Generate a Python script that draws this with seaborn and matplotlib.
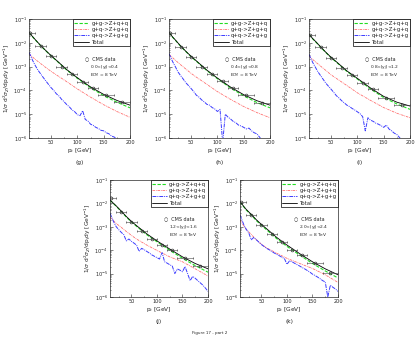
import matplotlib
matplotlib.use("Agg")
import matplotlib.pyplot as plt
import seaborn as sns
from matplotlib.ticker import MultipleLocator

# -------------------------
# data
# -------------------------
pt_smooth = [8, 15, 20, 30, 40, 50, 60, 80, 100, 125, 150, 175, 200]
pt_blue = [8, 10, 15, 20, 25, 30, 35, 40, 45, 50, 55, 60, 65, 70, 75, 80, 85, 90, 95, 100,
           105, 110, 115, 120, 125, 130, 135, 140, 145, 150, 155, 160, 165, 170, 175, 180,
           185, 190, 195, 200]
pt_data = [10, 30, 50, 70, 90, 110, 130, 155, 185]
pt_halfbin = [10, 10, 10, 10, 10, 10, 10, 15, 15]

captions = ["(g)", "(h)", "(i)", "(j)", "(k)"]
rap_labels = ["0.0<|y$_j$|<0.4", "0.4<|y$_j$|<0.8", "0.8<|y$_j$|<1.2",
              "1.2<|y$_j$|<1.6", "2.0<|y$_j$|<2.4"]

# Total
total_g = [2.75e-2, 1.8e-2, 1.35e-2, 7.8e-3, 4.7e-3, 2.9e-3, 1.85e-3, 7.4e-4, 3.4e-4, 1.4e-4, 6.8e-5, 3.8e-5, 2.4e-5]
total_h = [2.75e-2, 1.74e-2, 1.32e-2, 7.4e-3, 4.4e-3, 2.7e-3, 1.74e-3, 7.1e-4, 3.3e-4, 1.38e-4, 6.6e-5, 3.7e-5, 2.4e-5]
total_i = [2.35e-2, 1.5e-2, 1.17e-2, 6.8e-3, 4.0e-3, 2.45e-3, 1.6e-3, 6.6e-4, 3.2e-4, 1.26e-4, 5.6e-5, 3.2e-5, 2.2e-5]
total_j = [1.4e-2, 1.0e-2, 7.9e-3, 4.7e-3, 2.75e-3, 1.7e-3, 1.12e-3, 5.0e-4, 2.5e-4, 1.12e-4, 5.2e-5, 2.7e-5, 1.6e-5]
total_k = [1.2e-2, 7.6e-3, 5.6e-3, 3.4e-3, 2.0e-3, 1.26e-3, 8.3e-4, 3.5e-4, 1.66e-4, 7.1e-5, 3.2e-5, 1.6e-5, 8.9e-6]

# g+g->Z+q+q (green)
green_g = [2.7e-2, 1.77e-2, 1.32e-2, 7.6e-3, 4.6e-3, 2.8e-3, 1.8e-3, 7.1e-4, 3.2e-4, 1.3e-4, 6.0e-5, 3.2e-5, 1.85e-5]
green_h = [2.7e-2, 1.7e-2, 1.29e-2, 7.2e-3, 4.3e-3, 2.6e-3, 1.68e-3, 6.8e-4, 3.1e-4, 1.27e-4, 5.9e-5, 3.1e-5, 1.85e-5]
green_i = [2.3e-2, 1.47e-2, 1.14e-2, 6.6e-3, 3.9e-3, 2.36e-3, 1.54e-3, 6.3e-4, 3.0e-4, 1.15e-4, 5.0e-5, 2.7e-5, 1.6e-5]
green_j = [1.37e-2, 9.7e-3, 7.6e-3, 4.5e-3, 2.6e-3, 1.6e-3, 1.05e-3, 4.6e-4, 2.3e-4, 1.0e-4, 4.5e-5, 2.2e-5, 1.15e-5]
green_k = [1.17e-2, 7.3e-3, 5.3e-3, 3.2e-3, 1.85e-3, 1.15e-3, 7.5e-4, 3.1e-4, 1.45e-4, 6.2e-5, 2.7e-5, 1.3e-5, 6.5e-6]

# g+q->Z+g+q (red)
red_g = [3.5e-3, 2.5e-3, 2.0e-3, 1.35e-3, 9.1e-4, 6.3e-4, 4.5e-4, 2.3e-4, 1.15e-4, 5.2e-5, 2.5e-5, 1.3e-5, 7.4e-6]
red_h = [3.3e-3, 2.35e-3, 1.86e-3, 1.2e-3, 7.9e-4, 5.2e-4, 3.6e-4, 1.8e-4, 8.9e-5, 4.2e-5, 2.1e-5, 1.17e-5, 7.1e-6]
red_i = [2.8e-3, 2.0e-3, 1.6e-3, 1.05e-3, 6.9e-4, 4.5e-4, 3.2e-4, 1.6e-4, 7.9e-5, 3.8e-5, 1.9e-5, 1.1e-5, 7.1e-6]
red_j = [2.6e-3, 1.8e-3, 1.4e-3, 9.5e-4, 6.3e-4, 4.3e-4, 3.0e-4, 1.66e-4, 9.8e-5, 5.2e-5, 3.2e-5, 1.6e-5, 7.9e-6]
red_k = [2.0e-3, 1.12e-3, 7.9e-4, 4.7e-4, 2.8e-4, 1.8e-4, 1.26e-4, 7.4e-5, 4.5e-5, 2.7e-5, 1.66e-5, 8.9e-6, 4.2e-6]

# q+q->Z+g+g (blue, noisy MC)
blue_g = [3.9e-3, 3.2e-3, 1.8e-3, 1.1e-3, 7.1e-4, 5.0e-4, 3.5e-4, 2.5e-4, 1.8e-4, 1.3e-4,
          1.0e-4, 7.2e-5, 5.8e-5, 4.2e-5, 3.3e-5, 2.5e-5, 2.0e-5, 1.5e-5, 1.26e-5, 9.5e-6,
          8.7e-6, 1.4e-5, 6.0e-6, 5.2e-6, 3.8e-6, 3.4e-6, 2.8e-6, 2.5e-6, 2.1e-6, 2.0e-6,
          1.66e-6, 1.5e-6, 1.2e-6, 1.1e-6, 8.9e-7, 6.3e-7, 4.0e-7, 2.5e-7, 1.6e-7, 1.0e-7]
blue_h = [3.5e-3, 2.8e-3, 1.6e-3, 1.0e-3, 6.0e-4, 4.2e-4, 3.0e-4, 2.1e-4, 1.6e-4, 1.2e-4,
          8.9e-5, 6.3e-5, 5.2e-5, 4.0e-5, 3.3e-5, 2.6e-5, 2.4e-5, 1.9e-5, 1.66e-5, 1.3e-5,
          1.6e-5, 6.3e-7, 1.0e-5, 7.6e-6, 6.3e-6, 5.0e-6, 4.4e-6, 3.5e-6, 3.2e-6, 2.8e-6,
          2.4e-6, 2.6e-6, 2.0e-6, 1.66e-6, 1.5e-6, 1.1e-6, 7.9e-7, 5.0e-7, 3.2e-7, 2.0e-7]
blue_i = [3.3e-3, 2.6e-3, 1.5e-3, 9.5e-4, 6.0e-4, 4.2e-4, 2.9e-4, 2.0e-4, 1.5e-4, 1.12e-4,
          8.3e-5, 6.0e-5, 4.8e-5, 3.7e-5, 3.0e-5, 2.4e-5, 2.1e-5, 1.74e-5, 1.5e-5, 1.26e-5,
          1.05e-5, 7.9e-6, 2.0e-6, 7.1e-6, 5.6e-6, 5.0e-6, 4.2e-6, 3.8e-6, 3.3e-6, 2.8e-6,
          3.5e-6, 2.4e-6, 2.0e-6, 1.6e-6, 1.4e-6, 1.05e-6, 7.9e-7, 5.0e-7, 3.2e-7, 2.0e-7]
blue_j = [3.8e-3, 3.0e-3, 1.66e-3, 1.02e-3, 7.6e-4, 5.8e-4, 4.6e-4, 2.5e-4, 3.0e-4, 2.4e-4,
          2.0e-4, 1.66e-4, 8.9e-5, 1.2e-4, 1.05e-4, 8.9e-5, 7.6e-5, 6.3e-5, 5.5e-5, 4.8e-5,
          4.2e-5, 7.9e-5, 3.2e-5, 2.8e-5, 2.4e-5, 2.1e-5, 1.0e-5, 1.58e-5, 1.4e-5, 1.2e-5,
          2.0e-5, 1.0e-5, 5.0e-6, 7.6e-6, 6.3e-6, 5.0e-6, 4.0e-6, 3.2e-6, 2.4e-6, 1.74e-6]
blue_k = [3.2e-3, 2.5e-3, 1.3e-3, 7.9e-4, 5.6e-4, 2.8e-4, 3.5e-4, 2.8e-4, 2.2e-4, 1.74e-4,
          1.45e-4, 1.2e-4, 1.05e-4, 8.9e-5, 7.6e-5, 6.6e-5, 5.8e-5, 5.0e-5, 4.4e-5, 2.5e-5,
          3.5e-5, 3.2e-5, 2.75e-5, 2.4e-5, 2.1e-5, 1.8e-5, 1.58e-5, 1.35e-5, 1.15e-5, 9.5e-6,
          8.3e-6, 7.1e-6, 6.0e-6, 5.0e-6, 4.4e-6, 1.0e-6, 3.2e-6, 2.6e-6, 2.2e-6, 1.74e-6]

# CMS data
cms_g = [2.5e-2, 7.4e-3, 2.75e-3, 1.0e-3, 4.7e-4, 2.3e-4, 1.23e-4, 6.3e-5, 3.2e-5]
cms_h = [2.5e-2, 6.8e-3, 2.6e-3, 9.8e-4, 4.8e-4, 2.5e-4, 1.3e-4, 6.3e-5, 3.0e-5]
cms_i = [2.2e-2, 6.8e-3, 2.4e-3, 9.1e-4, 4.3e-4, 2.1e-4, 1.17e-4, 4.9e-5, 2.4e-5]
cms_j = [1.66e-2, 4.5e-3, 1.66e-3, 6.8e-4, 3.1e-4, 1.7e-4, 9.8e-5, 4.6e-5, 2.2e-5]
cms_k = [1.2e-2, 3.2e-3, 1.2e-3, 5.0e-4, 2.2e-4, 1.05e-4, 6.0e-5, 2.8e-5, 1.1e-5]

totals = [total_g, total_h, total_i, total_j, total_k]
greens = [green_g, green_h, green_i, green_j, green_k]
reds = [red_g, red_h, red_i, red_j, red_k]
blues = [blue_g, blue_h, blue_i, blue_j, blue_k]
cms = [cms_g, cms_h, cms_i, cms_j, cms_k]

# -------------------------
# figure
# -------------------------
sns.set_style("ticks")
plt.rcParams["font.family"] = ["DejaVu Sans"]

fig = plt.figure(figsize=(4.2, 3.4), dpi=100)
W, H = 420, 340
# frames in pixels: left, top, right, bottom
frames = [(29, 19, 130, 138), (169, 19, 270, 138), (309, 19, 410, 138),
          (110, 180, 208, 297), (240, 180, 338, 297)]

c_green = "#22dd22"
c_red = "#ff7070"
c_blue = "#3a3aff"

for n, (l, t, r, b) in enumerate(frames):
    ax = fig.add_axes([l / W, 1 - b / H, (r - l) / W, (b - t) / H])

    sns.lineplot(x=pt_smooth, y=greens[n], ax=ax, color=c_green, lw=0.8,
                 linestyle=(0, (3, 1.5)), label="g+g->Z+q+q")
    sns.lineplot(x=pt_smooth, y=reds[n], ax=ax, color=c_red, lw=0.6,
                 linestyle=(0, (3, 1, 1, 1)), label="g+q->Z+g+q")
    sns.lineplot(x=pt_blue, y=blues[n], ax=ax, color=c_blue, lw=0.7,
                 linestyle=(0, (4, 1, 1, 1)), label="q+q->Z+g+g")
    sns.lineplot(x=pt_smooth, y=totals[n], ax=ax, color="black", lw=0.6,
                 label="Total")
    ax.errorbar(pt_data, cms[n], xerr=pt_halfbin, fmt="o", ms=2, mfc="none",
                mec="#333333", mew=0.5, ecolor="#444444", elinewidth=0.4,
                capsize=1, capthick=0.4, zorder=5)

    ax.set_yscale("log")
    ax.set_xlim(8, 200)
    ax.set_ylim(1e-6, 1e-1)
    ax.xaxis.set_major_locator(MultipleLocator(50))
    ax.xaxis.set_minor_locator(MultipleLocator(25))
    ax.tick_params(which="both", direction="in", labelsize=3.6, width=0.4, pad=1.5)
    ax.tick_params(which="major", length=2)
    ax.tick_params(which="minor", length=1)
    for s in ax.spines.values():
        s.set_linewidth(0.5)

    ax.set_xlabel("p$_t$ [GeV]", fontsize=4.2, labelpad=1)
    ax.set_ylabel("1/$\\sigma$ d$^2\\sigma_Z$/dp$_t$dy [GeV$^{-1}$]", fontsize=4.2, labelpad=1)

    leg = ax.legend(loc="upper right", fontsize=3.9, handlelength=2.6, borderpad=0.3,
                    labelspacing=0.25, handletextpad=0.5, borderaxespad=0,
                    frameon=True, fancybox=False, edgecolor="black", framealpha=1)
    leg.get_frame().set_linewidth(0.5)

    ax.text(0.55, 0.665, "\u25cb  CMS data", transform=ax.transAxes, fontsize=3.5, va="center")
    ax.text(0.6, 0.595, rap_labels[n], transform=ax.transAxes, fontsize=3.2, va="center")
    ax.text(0.6, 0.525, "E$_{CM}$ = 8 TeV", transform=ax.transAxes, fontsize=3.2, va="center")

    ax.text(0.5, -0.21, captions[n], transform=ax.transAxes, fontsize=4.2, ha="center", va="center")

fig.text(0.5, 0.02, "Figure 17 - part 2", fontsize=3, ha="center", va="center")

fig.savefig("out.png", dpi=100)
